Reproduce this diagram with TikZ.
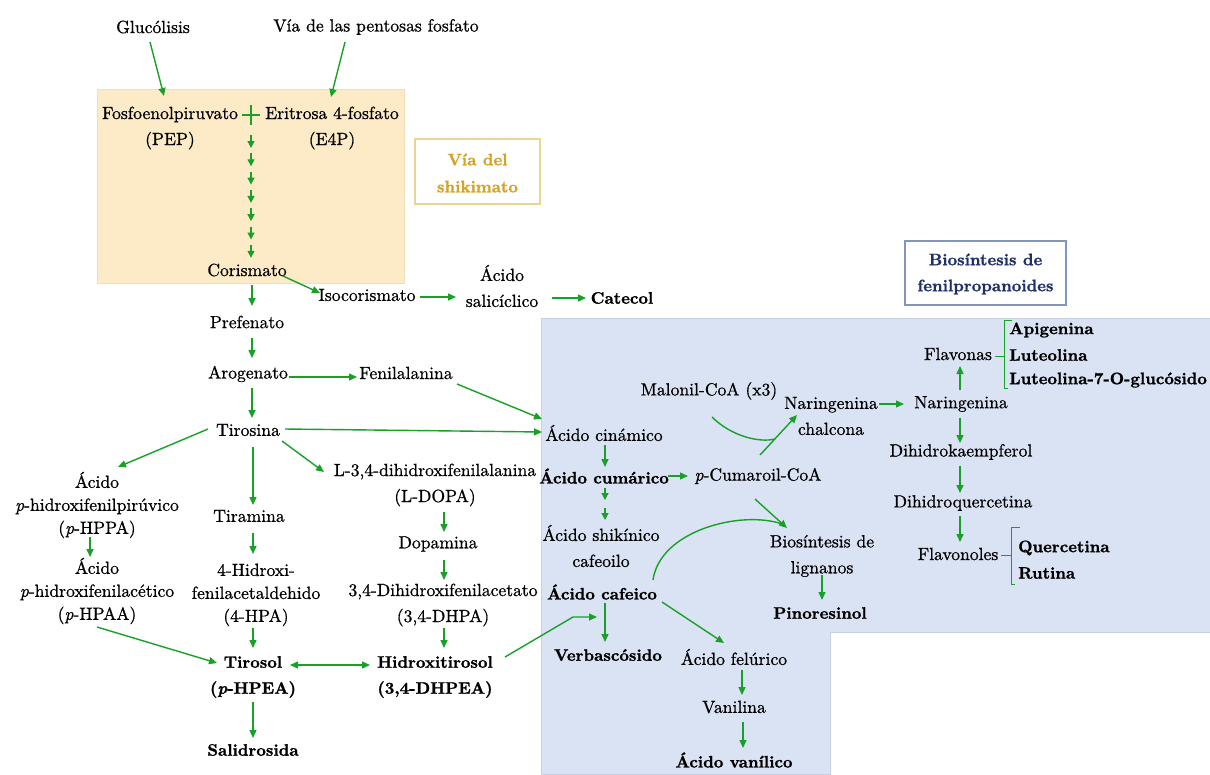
\documentclass[tikz,border=0pt]{standalone}
\usepackage{fontspec}
\setmainfont{lmroman10}[Extension=.otf, UprightFont=*-regular, BoldFont=*-bold, ItalicFont=*-italic, BoldItalicFont=*-bolditalic, UprightFeatures={FakeBold=0.8}, ItalicFeatures={FakeBold=0.8}, BoldFeatures={FakeBold=1.2}, BoldItalicFeatures={FakeBold=1.2}]
\usetikzlibrary{arrows.meta,calc}
\definecolor{grn}{RGB}{24,160,40}
\definecolor{peach}{RGB}{253,235,200}
\definecolor{peachline}{RGB}{242,222,180}
\definecolor{gold}{RGB}{212,162,36}
\definecolor{goldline}{RGB}{236,212,150}
\definecolor{navy}{RGB}{31,48,104}
\definecolor{navyline}{RGB}{130,150,185}
\definecolor{bluefill}{RGB}{218,227,243}
\definecolor{blueline}{RGB}{198,208,226}
\begin{document}
\begin{tikzpicture}[x=1pt,y=-1pt,
  lbl/.style={inner sep=0pt, align=center, font=\fontsize{17.6}{26}\selectfont},
  lbls/.style={inner sep=0pt, align=center, font=\fontsize{17.6}{23}\selectfont},
  bld/.style={inner sep=0pt, align=center, font=\fontsize{16.6}{26}\selectfont\bfseries},
  bldl/.style={inner sep=0pt, anchor=west, font=\fontsize{16.6}{26}\selectfont\bfseries},
  arr/.style={draw=grn, line width=1.4pt, -{Triangle[length=8pt,width=7pt]}},
  darr/.style={draw=grn, line width=1.4pt, {Triangle[length=8pt,width=7pt]}-{Triangle[length=8pt,width=7pt]}},
  sarr/.style={draw=grn, line width=1.3pt, -{Triangle[length=7pt,width=7pt]}},
  gline/.style={draw=grn, line width=1.4pt},
  brk/.style={draw=grn, line width=1pt}]
\useasboundingbox (0,0) rectangle (1210,774);
\fill[white] (0,0) rectangle (1210,774);
% regions
\filldraw[fill=peach, draw=peachline, line width=0.8pt] (97,89) rectangle (404,283);
\filldraw[fill=bluefill, draw=blueline, line width=0.8pt] (541,318) -- (1210,318) -- (1210,632) -- (830,632) -- (830,774) -- (541,774) -- cycle;
\draw[draw=goldline, line width=1.2pt, fill=white] (415,139) rectangle (540,204);
\node[bld, text=gold, font=\fontsize{16.6}{27}\selectfont\bfseries] (via) at (477.5,173) {Vía del\\shikimato};
\draw[draw=navyline, line width=1.2pt, fill=white] (905,241) rectangle (1066,305);
\node[bld, text=navy] (bio) at (985.5,274) {Biosíntesis de\\fenilpropanoides};

% nodes
\node[lbl] (glu) at (153,27) {Glucólisis};
\node[lbl] (ppp) at (376,27) {Vía de las pentosas fosfato};
\node[lbl] (pep) at (170,128) {Fosfoenolpiruvato\\(PEP)};
\node[lbl] (e4p) at (332,128) {Eritrosa 4-fosfato\\(E4P)};
\coordinate (plus) at (251,115);
\node[lbl] (cor) at (247,270) {Corismato};
\node[lbl] (iso) at (367,295) {Isocorismato};
\node[lbl] (sal) at (502,286) {Ácido\\salicíclico};
\node[bld] (cat) at (622,298) {Catecol};
\node[lbl] (pre) at (247,322) {Prefenato};
\node[lbl] (aro) at (248,374) {Arogenato};
\node[lbl] (fen) at (406,373) {Fenilalanina};
\node[lbl] (tir) at (248,430) {Tirosina};
\node[lbls] (hppa) at (97,505) {Ácido\\\textit{p}-hidroxifenilpirúvico\\(\textit{p}-HPPA)};
\node[lbls] (hpaa) at (97,591) {Ácido\\\textit{p}-hidroxifenilacético\\(\textit{p}-HPAA)};
\node[lbl] (tira) at (249,516) {Tiramina};
\node[lbls] (hpa) at (256,595) {4-Hidroxi-\\fenilacetaldehido\\(4-HPA)};
\node[lbl] (ldopa) at (435,485) {L-3,4-dihidroxifenilalanina\\(L-DOPA)};
\node[lbl] (dopa) at (438,544) {Dopamina};
\node[lbl] (dhpa) at (443,605) {3,4-Dihidroxifenilacetato\\(3,4-DHPA)};
\node[bld] (tyrol) at (253,677) {Tirosol\\(\textit{p}-HPEA)};
\node[bld] (htyrol) at (435,677) {Hidroxitirosol\\(3,4-DHPEA)};
\node[bld] (sali) at (253,750) {Salidrosida};

\node[lbl] (cin) at (604,433) {Ácido cinámico};
\node[bld] (cum) at (604,476) {Ácido cumárico};
\node[lbl] (pcoa) at (758,476) {\textit{p}-Cumaroil-CoA};
\node[lbl] (mal) at (709,391) {Malonil-CoA (x3)};
\node[lbl] (chal) at (831,416) {Naringenina\\chalcona};
\node[lbl] (nar) at (961,404) {Naringenina};
\node[lbl] (flavonas) at (958,354) {Flavonas};
\node[lbl] (dhk) at (961,452) {Dihidrokaempferol};
\node[lbl] (dhq) at (963,503) {Dihidroquercetina};
\node[lbl] (flavonoles) at (958,554) {Flavonoles};
\node[bldl] (apig) at (1009,330) {Apigenina};
\node[bldl] (lut) at (1009,355) {Luteolina};
\node[bldl] (lut7) at (1009,380) {Luteolina-7-O-glucósido};
\node[bldl] (quer) at (1018,548) {Quercetina};
\node[bldl] (rut) at (1018,573) {Rutina};
\node[lbl] (shik) at (601,546) {Ácido shikínico\\cafeoilo};
\node[bld] (caf) at (602,592) {Ácido cafeico};
\node[bld] (verb) at (608,655) {Verbascósido};
\node[lbl] (lig) at (822,556) {Biosíntesis de\\lignanos};
\node[bld] (pino) at (820,613) {Pinoresinol};
\node[lbl] (fel) at (734,657) {Ácido felúrico};
\node[lbl] (van) at (734,707) {Vanilina};
\node[bld] (vanil) at (734,760) {Ácido vanílico};

% connectors: shikimate pathway
\draw[arr] ($(glu)+(-3,15)$) -- ($(pep)+(-6,-32)$);
\draw[arr] ($(ppp)+(-31,15)$) -- ($(e4p)+(-1,-31)$);
\draw[gline] ($(plus)+(-9,0)$) -- ($(plus)+(9,0)$);
\draw[gline] ($(plus)+(0,-10)$) -- ($(plus)+(0,10)$);
\foreach \k in {0,...,6} {
  \draw[sarr] ($(plus)+(0,20+18.3*\k)$) -- ($(plus)+(0,33+18.3*\k)$);
}
\draw[arr] ($(cor)+(36,6)$) -- ($(iso)+(-47,-2)$);
\draw[arr] ($(iso)+(53,2)$) -- ($(sal)+(-46,11)$);
\draw[arr] ($(sal)+(50,12)$) -- ($(cat)+(-36,0)$);
\draw[arr] ($(cor)+(5,15)$) -- ($(pre)+(5,-16)$);
\draw[arr] ($(pre)+(5,16)$) -- ($(aro)+(4,-16)$);
\draw[arr] ($(aro)+(41,3)$) -- ($(fen)+(-49,4)$);
\draw[arr] ($(aro)+(4,14)$) -- ($(tir)+(4,-12)$);
\draw[arr] ($(fen)+(51,11)$) -- ($(cin)+(-62,-14)$);
\draw[arr] ($(tir)+(37,-1)$) -- ($(cin)+(-62,-1)$);
\draw[arr] ($(tir)+(-40,-1)$) -- ($(hppa)+(21,-38)$);
\draw[arr] ($(tir)+(5,17)$) -- ($(tira)+(4,-11)$);
\draw[arr] ($(tir)+(34,11)$) -- ($(ldopa)+(-111,-13)$);
\draw[arr] ($(hppa)+(-7,32)$) -- ($(hpaa)+(-7,-34)$);
\draw[arr] ($(tira)+(4,17)$) -- ($(hpa)+(-3,-41)$);
\draw[arr] ($(ldopa)+(9,27)$) -- ($(dopa)+(6,-12)$);
\draw[arr] ($(dopa)+(6,16)$) -- ($(dhpa)+(1,-25)$);
\draw[arr] ($(hpaa)+(0,36)$) -- ($(tyrol)+(-36,-14)$);
\draw[arr] ($(hpa)+(-3,33)$) -- ($(tyrol)+(0,-29)$);
\draw[arr] ($(dhpa)+(1,23)$) -- ($(htyrol)+(9,-29)$);
\draw[darr] ($(tyrol)+(37,-12)$) -- ($(htyrol)+(-65,-12)$);
\draw[arr] ($(tyrol)+(0,25)$) -- ($(sali)+(0,-12)$);
\draw[arr] ($(htyrol)+(70,-20)$) -- ($(caf)+(-29,25)$) -- ($(caf)+(-5,25)$);

% phenylpropanoid block
\draw[arr] ($(cin)+(1,12)$) -- ($(cum)+(1,-9)$);
\draw[arr] ($(cum)+(64,0)$) -- ($(pcoa)+(-70,0)$);
\draw[sarr] ($(cum)+(1,12)$) -- ($(cum)+(1,24)$);
\draw[sarr] ($(cum)+(1,32)$) -- ($(cum)+(1,44)$);
\draw[arr] ($(caf)+(3,11)$) -- ($(verb)+(-3,-13)$);
\draw[arr] ($(caf)+(60,10)$) -- ($(fel)+(-10,-14)$);
\draw[arr] ($(fel)+(8,13)$) -- ($(van)+(8,-12)$);
\draw[arr] ($(van)+(9,15)$) -- ($(vanil)+(9,-12)$);
\draw[arr] ($(pcoa)+(-3,23)$) -- ($(lig)+(-35,-28)$);
\draw[gline] ($(caf)+(51,-12)$) .. controls ($(caf)+(58,-62)$) and ($(caf)+(140,-82)$) .. ($(lig)+(-40,-32)$);
\draw[arr] ($(lig)+(0,19)$) -- ($(pino)+(2,-13)$);
\draw[arr] ($(pcoa)+(2,-21)$) -- ($(chal)+(-34,-1)$);
\draw[gline] ($(mal)+(3,26)$) .. controls ($(mal)+(22,45)$) and ($(mal)+(50,52)$) .. ($(chal)+(-56,23)$);
\draw[arr] ($(chal)+(48,-12)$) -- ($(nar)+(-57,0)$);
\draw[arr] ($(nar)+(-1,-14)$) -- ($(flavonas)+(2,12)$);
\draw[arr] ($(nar)+(-1,14)$) -- ($(dhk)+(-1,-9)$);
\draw[arr] ($(dhk)+(-1,14)$) -- ($(dhq)+(-3,-10)$);
\draw[arr] ($(dhq)+(-3,13)$) -- ($(flavonoles)+(2,-12)$);
% brackets
\draw[brk] ($(apig.west)+(3,-10)$) -- ($(apig.west)+(-5,-10)$) -- ($(lut7.west)+(-5,8)$) -- ($(lut7.west)+(-1,8)$);
\draw[brk] ($(flavonas.east)+(3,2)$) -- ($(lut.west)+(-5,1)$);
\draw[brk] ($(quer.west)+(2,-21)$) -- ($(quer.west)+(-7,-21)$) -- ($(rut.west)+(-7,11)$) -- ($(rut.west)+(-3,11)$);
\draw[brk] ($(flavonoles.east)+(3,1)$) -- ($(quer.west)+(-7,7)$);
\end{tikzpicture}
\end{document}
